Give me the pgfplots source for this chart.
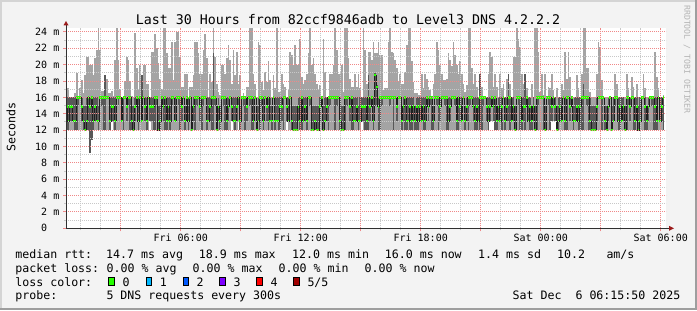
\documentclass[border=0pt]{standalone}
\usepackage{pgfplots}
\pgfplotsset{compat=1.18}
\usepackage{pgfplotstable}
\usepackage{fontspec}
\setmainfont{DejaVu Sans Mono}
\newfontfamily\dvm{DejaVu Sans Mono}
\newcommand\fleg{\fontsize{11.6bp}{13.9bp}\dvm}
\newcommand\ftitle{\fontsize{13.3bp}{16bp}\dvm}
\newcommand\ftick{\fontsize{10bp}{12bp}\dvm}
\newcommand\fwm{\fontsize{8.2bp}{10bp}\dvm}
\definecolor{bgc}{HTML}{F3F3F3}
\definecolor{shadeA}{HTML}{D4D4D4}
\definecolor{shadeB}{HTML}{9E9E9E}
\definecolor{gridR}{HTML}{F08888}
\definecolor{gridG}{HTML}{C8C8C8}
\definecolor{smokeL}{HTML}{A4A4A4}
\definecolor{smokeD}{HTML}{585858}
\definecolor{medc}{HTML}{202020}
\definecolor{lc0}{HTML}{26FF00}
\definecolor{lc1}{HTML}{00B8FF}
\definecolor{lc2}{HTML}{0059FF}
\definecolor{lc3}{HTML}{7E00FF}
\definecolor{lc4}{HTML}{FF0000}
\definecolor{lc5}{HTML}{A10000}
\definecolor{axisc}{HTML}{303030}
\definecolor{arrowc}{HTML}{9B1B1B}
\definecolor{wmc}{HTML}{B4B4B4}

\pgfplotstableread{
lo d1 m d2 hi
12 12 14.9 16 17.2
12 12 13.1 16 17.2
12 13.1 14.9 16 16
12 13.1 14.9 16 16
12 13.1 13.1 16 16
12 12 13.1 16 16.5
12 12 16 16 19.0
12 14.9 16 16 16.2
12 16 16 16 17.1
12 13.1 14.9 16 18.1
12 12 13.1 14.9 16.5
12 12 12 14.9 18.8
12 12 13.1 16 21.0
12 12 16 16 21.0
9.2 9.2 14.9 16 20.0
10.8 10.8 16 16 20.0
12 12 13.1 16 18.8
12 13.1 14.9 16 20.8
12 13.1 13.1 16 21.8
12 12 13.1 14.9 24.5
12 16 16 16 21.8
12 14.9 16 16 16.8
12 12 16 16 16.8
12 12 16 18.8 18.8
12 16 16 16 18.2
12 16 16 16 16.5
12 12 13.1 16 16.5
13.1 13.1 14.9 16 16.8
12 13.1 14.9 16 16.2
12 12 13.1 16 20.6
12 16 16 16 24.5
12 14.9 16 16 20.6
12 16 16 16 17.0
12 13.1 13.1 16 16
12 12 16 16 16
12 16 16 16 18.0
12 13.1 14.9 16 21.0
12 14.9 16 16 20.6
12 12 16 16 18.0
12 12 13.1 14.9 16.2
12 12 12 14.9 16
12 13.1 14.9 16 23.9
12 14.9 16 16 19.6
12 12 13.1 16 17.0
12 16 16 16 20.0
12 13.1 13.1 18.8 18.8
12 16 16 16 20.0
12 13.1 14.9 16 20.0
12 12 13.1 16 17.6
12 16 16 16 17.6
13.1 13.1 14.9 16 16
12 13.1 14.9 16 21.6
12 12 14.9 16 21.6
12 12 16 16 23.8
12 14.9 16 16 22.0
12 12 12 14.9 20.2
12 12 13.1 14.9 18.2
12 16 16 16 17.0
12 13.1 14.9 16 24.5
12 12 16 16 24.5
12 12 13.1 16 21.4
12 13.1 14.9 16 19.6
12 12 13.1 16 19.6
12 14.9 16 16 22.8
12 16 16 16 18.1
12 13.1 13.1 16 22.8
12 16 16 16 24.0
12 14.9 16 16 24.0
12 12 16 16 21.0
12 13.1 14.9 16 17.3
12 16 16 16 17.3
12 12 13.1 14.9 18.9
12 14.9 16 16 18.9
12 12 13.1 16 16
12 16 16 16 17.3
12 12 12 14.9 17.3
12 13.1 14.9 16 18.7
12 12 16 16 22.8
12 14.9 16 16 22.8
12 16 16 16 21.4
12 13.1 14.9 16 18.9
12 12 16 16 18.9
12 14.9 16 16 21.8
12 16 16 16 23.8
12 12 13.1 16 20.8
12 13.1 13.1 16 16
12 13.1 14.9 16 18.9
12 12 16 16 17.9
12 12 16 21.4 24.5
12 14.9 16 16 21.0
12 12 12 14.9 17.7
12 13.1 14.9 16 16.7
12 12 13.1 14.9 16.3
12 16 16 16 20.0
12 14.9 16 16 20.0
12 12 16 16 18.9
12 12 13.1 16 20.8
12 13.1 14.9 16 22.4
12 16 16 16 20.6
13.1 13.1 14.9 16 17.7
12 13.1 13.1 16 21.8
12 12 13.1 16 18.7
12 13.1 14.9 16 21.6
13.1 14.9 16 16 17.7
12 12 13.1 14.9 18.7
12 16 16 16 16
12 14.9 16 16 16.5
12 12 16 16 16
12 13.1 14.9 16 17.3
12 16 16 16 17.3
12 14.9 16 16 24.5
12 12 16 16 24.5
12 12 13.1 16 18.9
12 16 16 16 17.7
12 12 12 14.9 16
12 13.1 13.1 16 22.8
12 12 16 16 22.4
12 14.9 16 16 17.9
12 12 13.1 16 16.9
12 16 16 16 19.1
12 13.1 14.9 16 17.9
12 12 16 16 20.4
12 13.1 13.1 16 18.1
12 12 13.1 14.9 16
12 16 16 16 18.7
12 12 13.1 16 17.1
12 13.1 13.1 16 24.5
12 12 13.1 16 16.7
12 12 14.9 16 16.7
12 13.1 14.9 16 18.9
12 12 16 16 17.7
12 16 16 16 17.3
13.1 13.1 14.9 16 16
12 13.1 13.1 16 16.9
12 16 16 16 21.6
12 12 13.1 14.9 21.2
12 12 12 14.9 20.0
12 12 12 14.9 22.4
12 12 12 14.9 20.0
12 13.1 14.9 16 20.0
12 12 13.1 16 23.2
12 12 16 16 18.5
12 13.1 13.1 16 17.7
12 13.1 14.9 16 18.1
12 12 13.1 16 18.9
12 16 16 16 21.4
12 14.9 16 16 24.5
12 12 12 14.9 20.0
12 12 12 14.9 20.8
12 12 13.1 14.9 18.9
12 12 12 14.9 17.7
12 12 12 14.9 16.9
12 13.1 14.9 16 17.5
12 16 16 16 16
12 12 12 14.9 23.2
12 13.1 13.1 16 19.1
12 13.1 14.9 16 16.1
12 12 16 16 16
12 14.9 16 16 18.9
12 16 16 16 18.9
12 16 16 16 20.0
12 12 16 16 24.5
12 14.9 16 16 21.8
12 16 16 16 18.9
12 12 13.1 16 18.9
12 12 12 14.9 20.0
12 12 12 14.9 16.7
12 12 16 16 24.5
12 14.9 16 16 24.5
12 16 16 16 20.8
12 13.1 14.9 16 18.3
12 12 16 16 17.3
12 12 13.1 16 17.3
12 13.1 13.1 16 18.9
12 13.1 14.9 16 17.3
12 12 13.1 14.9 18.9
12 13.1 13.1 16 17.1
13.1 13.1 14.9 16 16
12 13.1 14.9 16 24.5
12 12 14.9 16 21.8
12 12 13.1 16 17.7
12 12 16 18.7 21.6
12 13.1 14.9 16 21.6
12 16 16 16 20.6
12 12 13.1 16 22.8
12 14.9 18.7 19.0 21.4
12 14.9 17.3 17.5 21.4
12 12 14.9 16 22.8
12 12 16 16 21.2
12 14.9 16 16 21.2
12 16 16 16 16.9
12 16 16 16 17.1
12 16 16 16 17.1
12 16 16 16 22.8
12 14.9 16 16 24.5
12 16 16 16 21.6
12 12 16 16 21.4
12 16 16 16 20.6
12 13.1 14.9 16 19.6
12 16 16 16 17.9
12 16 16 16 18.9
12 12 13.1 14.9 17.7
12 13.1 14.9 16 17.7
12 12 16 16 19.1
12 12 13.1 16 22.4
12 13.1 13.1 16 24.5
12 12 14.9 16 24.5
12 12 13.1 16 20.4
12 13.1 14.9 16 17.9
12 12 13.1 14.9 16.5
12 12 14.9 16 16.5
12 12 13.1 16 16.3
12 13.1 14.9 16 16.3
12 13.1 13.1 16 18.9
12 12 14.9 16 17.1
12 12 13.1 16 18.9
12 16 16 16 18.3
12 13.1 14.9 16 17.3
12 14.9 16 16 16.9
12 12 16 16 16
12 12 13.1 14.9 17.7
12 16 16 16 18.9
12 14.9 16 16 22.8
12 12 16 16 21.8
12 13.1 14.9 16 20.0
12 16 16 16 18.9
12 16 16 16 18.1
12 14.9 16 16 18.1
12 12 16 16 18.3
12 12 13.1 16 21.4
12 13.1 14.9 16 20.6
12 16 16 16 19.8
12 16 16 16 22.8
12 14.9 16 16 21.2
12 12 13.1 16 20.0
12 12 16 16 18.9
12 13.1 14.9 16 20.4
12 13.1 13.1 16 18.9
12 16 16 16 17.7
12 12 13.1 14.9 16.7
12 13.1 14.9 16 17.5
12 12 16 16 24.5
12 14.9 16 16 24.5
12 16 16 16 19.6
12 13.1 14.9 16 17.7
12 12 13.1 16 18.9
12 12 14.9 16 17.3
12 13.1 13.1 16 16
12 12 16 18.9 18.9
12 12 16 16 17.3
12 14.9 16 16 16
12 16 16 16 16
12 13.1 14.9 16 16
12 12 13.1 16 18.9
13.1 13.1 14.9 16 21.6
13.1 14.9 16 16 21.0
13.1 13.1 14.9 16 17.3
12 12 16 16 18.9
12 12 13.1 14.9 17.3
12 13.1 14.9 16 16
12 13.1 13.1 16 18.9
12 12 14.9 16 17.1
12 16 16 16 17.7
12 12 13.1 16 16
12 13.1 14.9 16 18.3
12 13.1 16 18.9 18.9
12 12 16 16 17.7
12 13.1 13.1 16 16
12 13.1 14.9 16 21.0
12 12 12 14.9 21.0
12 16 16 16 24.5
12 14.9 16 16 23.2
12 12 16 16 22.2
12 12 13.1 16 18.9
12 13.1 14.9 16 17.7
12 12 14.9 18.9 18.9
12 16 16 16 17.1
12 13.1 13.1 16 16
12 12 14.9 16 16
12 12 13.1 14.9 17.7
12 13.1 14.9 16 16
12 12 12 14.9 24.5
12 12 16 16 24.5
12 14.9 16 16 21.6
12 16 16 16 16.7
12 16 16 16 18.9
12 12 16 16 16.3
12 12 12 14.9 18.9
12 16 16 16 16
12 14.9 16 16 17.3
12 12 16 16 17.1
13.1 13.1 14.9 16 18.9
13.1 14.9 16 16 16.9
13.1 13.1 14.9 16 16
12 12 12 14.9 17.1
12 12 13.1 16 16
12 13.1 14.9 16 16
12 13.1 13.1 16 17.7
12 16 16 16 16.9
12 12 13.1 16 21.6
12 12 16 16 18.3
12 16 16 16 21.6
12 13.1 14.9 16 18.5
12 14.9 16 16 16.1
12 12 13.1 14.9 16
12 13.1 13.1 16 16
12 13.1 14.9 16 18.7
12 12 13.1 16 17.1
12 12 14.9 16 16
12 12 16 16 18.9
12 12 16 17.7 24.5
12 16 16 16 24.5
12 14.9 16 16 19.6
12 12 16 16 19.6
12 12 13.1 16 16.7
12 12 12 14.9 16
12 12 12 14.9 16
12 12 12 14.9 16
12 13.1 14.9 16 18.9
12 16 16 16 22.8
12 16 16 16 22.2
12 12 16 16 18.1
12 16 16 16 16
12 12 13.1 14.9 16
12 12 12 14.9 16
12 13.1 14.9 16 16
12 16 16 16 16
12 12 12 14.9 16
12 13.1 13.1 16 16
12 14.9 16 16 18.9
12 16 16 16 17.7
12 12 13.1 16 16
12 12 14.9 16 16
12 13.1 13.1 16 16
12 13.1 14.9 16 16
12 12 12 14.9 16
12 12 16 16 18.9
12 14.9 16 16 17.1
12 13.1 14.9 16 16
12 16 16 16 18.5
12 12 16 16 17.3
12 12 13.1 16 16
12 13.1 14.9 16 17.7
12 12 12 14.9 16
12 13.1 13.1 16 16
12 16 16 16 16
12 16 16 16 18.9
12 12 14.9 16 17.1
12 12 13.1 14.9 16
12 13.1 14.9 16 16
12 16 16 16 16
12 14.9 16 16 16
12 12 16 16 16
12 12 14.9 16 21.6
12 12 13.1 16 18.5
12 16 16 16 17.1
12 13.1 13.1 16 16
12 13.1 14.9 16 16
12 12 16 16 16.3
}\rtt

\begin{document}
\begin{tikzpicture}[x=1bp,y=1bp]
\path[use as bounding box] (0,0) rectangle (697,310);
\fill[bgc] (0,0) rectangle (697,310);
\fill[shadeA] (0,308) rectangle (697,310);
\fill[shadeA] (0,0) rectangle (2,310);
\fill[shadeB] (0,0) rectangle (697,2);
\fill[shadeB] (695,0) rectangle (697,310);

\begin{axis}[
  at={(66bp,81.7bp)}, anchor=south west, scale only axis,
  width=600bp, height=200.4bp,
  xmin=0.2639, xmax=30.2639, ymin=0, ymax=24.5,
  axis background/.style={fill=white},
  axis on top,
  axis line style={draw=none},
  tick pos=left, tick align=outside,
  xtick={3,6,...,30},
  minor xtick={1,2,4,5,7,8,10,11,13,14,16,17,19,20,22,23,25,26,28,29},
  ytick={0,2,...,24},
  minor ytick={1,3,...,23},
  xticklabels={,,,,,,,,,},
  yticklabels={,,,,,,,,,,,,},
  grid=both,
  major grid style={draw=gridR, dash pattern=on 1bp off 1bp, line width=1bp},
  minor grid style={draw=gridG, dash pattern=on 1bp off 1bp, line width=1bp},
  major tick length=3bp, minor tick length=2bp,
  major tick style={draw=gridR, line width=1bp},
  minor tick style={draw=gridG, line width=1bp},
]
\addplot[forget plot, draw=none, mark=none,
  error bars/.cd, y dir=plus, y explicit, error mark=none,
  error bar style={draw=smokeL, line width=1.75bp}]
  table[x expr=0.2639+(\coordindex+0.5)/12, y=lo, y error plus expr=\thisrow{hi}-\thisrow{lo}] {\rtt};
\addplot[forget plot, draw=none, mark=none,
  error bars/.cd, y dir=plus, y explicit, error mark=none,
  error bar style={draw=smokeD, line width=1.75bp}]
  table[x expr=0.2639+(\coordindex+0.5)/12, y=d1, y error plus expr=\thisrow{d2}-\thisrow{d1}] {\rtt};
\addplot[forget plot, const plot mark mid, draw=medc, line width=0.8bp, mark=none]
  table[x expr=0.2639+(\coordindex+0.5)/12, y=m] {\rtt};
\addplot[forget plot, draw=none, mark=none,
  error bars/.cd, y dir=plus, y explicit, error mark=none,
  error bar style={draw=lc0, line width=1.75bp}]
  table[x expr=0.2639+(\coordindex+0.5)/12, y expr=\thisrow{m}-0.14, y error plus expr=0.28] {\rtt};
\end{axis}

% axis lines and arrows
\draw[axisc, line width=1bp] (66,81.7) -- (66,285);
\draw[axisc, line width=1bp] (66,81.7) -- (669,81.7);
\fill[arrowc] (63.5,284.7) -- (68.5,284.7) -- (66,289) -- cycle;
\fill[arrowc] (669,79.2) -- (669,84.2) -- (674,81.7) -- cycle;

% tick labels
\begin{scope}[every node/.style={inner sep=0pt, font=\ftick}]
\node[anchor=base] at (180.7,69) {Fri 06:00};
\node[anchor=base] at (300.7,69) {Fri 12:00};
\node[anchor=base] at (420.7,69) {Fri 18:00};
\node[anchor=base] at (540.7,69) {Sat 00:00};
\node[anchor=base] at (660.7,69) {Sat 06:00};
\node[anchor=base east] at (59.5,78.05) {0\phantom{\ m}};
\node[anchor=base east] at (59.5,94.41) {2 m};
\node[anchor=base east] at (59.5,110.77) {4 m};
\node[anchor=base east] at (59.5,127.13) {6 m};
\node[anchor=base east] at (59.5,143.49) {8 m};
\node[anchor=base east] at (59.5,159.85) {10 m};
\node[anchor=base east] at (59.5,176.21) {12 m};
\node[anchor=base east] at (59.5,192.57) {14 m};
\node[anchor=base east] at (59.5,208.93) {16 m};
\node[anchor=base east] at (59.5,225.29) {18 m};
\node[anchor=base east] at (59.5,241.65) {20 m};
\node[anchor=base east] at (59.5,258.01) {22 m};
\node[anchor=base east] at (59.5,274.37) {24 m};
\end{scope}

% title, unit, watermark
\node[inner sep=0pt, anchor=base, font=\ftitle] at (348,286) {Last 30 Hours from 82ccf9846adb to Level3 DNS 4.2.2.2};
\node[inner sep=0pt, anchor=base, rotate=90, font=\fleg] at (15.3,183.3) {Seconds};
\node[inner sep=0pt, anchor=base west, rotate=-90, font=\fwm, text=wmc] at (684.3,305) {RRDTOOL / TOBI OETIKER};

% legend
\begin{scope}[every node/.style={inner sep=0pt, anchor=base west, font=\fleg}]
\node at (15.2,51.7) {median rtt:};
\node at (106.0,51.7) {14.7 ms avg};
\node at (198.7,51.7) {18.9 ms max};
\node at (292.0,51.7) {12.0 ms min};
\node at (384.7,51.7) {16.0 ms now};
\node at (478.0,51.7) {1.4 ms sd};
\node at (557.0,51.7) {10.2};
\node at (606.3,51.7) {am/s};
\node at (15.2,38) {packet loss:};
\node at (106.5,38) {0.00 \% avg};
\node at (192.5,38) {0.00 \% max};
\node at (278.5,38) {0.00 \% min};
\node at (364.5,38) {0.00 \% now};
\node at (15.2,24) {loss color:};
\node at (122.5,24) {0};
\node at (159.7,24) {1};
\node at (196.3,24) {2};
\node at (233.3,24) {3};
\node at (270.3,24) {4};
\node at (307.3,24) {5/5};
\node at (15.2,10.3) {probe:};
\node at (106.3,10.3) {5 DNS requests every 300s};
\node[anchor=base east] at (680.5,10.3) {Sat Dec\ \ 6 06:15:50 2025};
\end{scope}
\filldraw[fill=lc0, draw=black, line width=0.9bp] (108.8,24.4) rectangle (114.2,32.4);
\filldraw[fill=lc1, draw=black, line width=0.9bp] (146.2,24.4) rectangle (151.6,32.4);
\filldraw[fill=lc2, draw=black, line width=0.9bp] (183.2,24.4) rectangle (188.6,32.4);
\filldraw[fill=lc3, draw=black, line width=0.9bp] (219.8,24.4) rectangle (225.2,32.4);
\filldraw[fill=lc4, draw=black, line width=0.9bp] (256.8,24.4) rectangle (262.2,32.4);
\filldraw[fill=lc5, draw=black, line width=0.9bp] (293.8,24.4) rectangle (299.2,32.4);
\end{tikzpicture}
\end{document}
